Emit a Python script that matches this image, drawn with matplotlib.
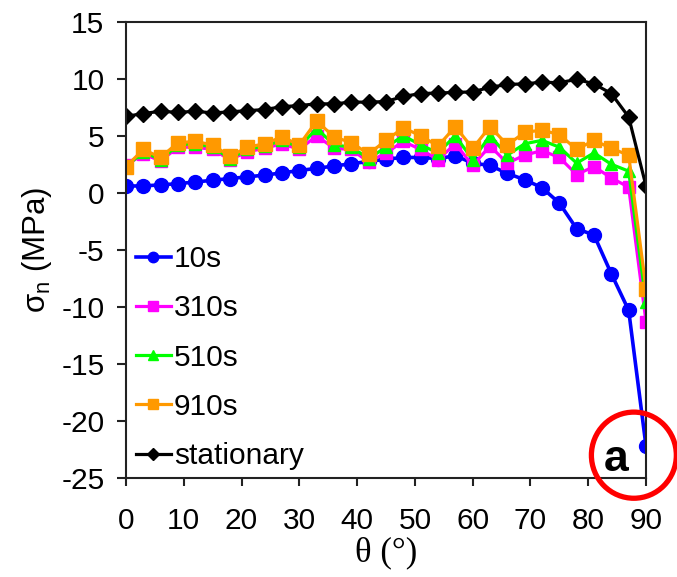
import matplotlib
matplotlib.use("Agg")
import matplotlib.pyplot as plt
from matplotlib.patches import Ellipse

plt.rcParams['font.family'] = ['Liberation Sans', 'DejaVu Sans']
plt.rcParams['mathtext.fontset'] = 'custom'
plt.rcParams['mathtext.rm'] = 'Liberation Sans'
plt.rcParams['mathtext.it'] = 'Liberation Sans:italic'
plt.rcParams['axes.unicode_minus'] = False

theta = list(range(0, 91, 3))

s10 = [0.6, 0.6, 0.7, 0.8, 0.95, 1.1, 1.25, 1.4, 1.55, 1.75, 1.95, 2.15, 2.35, 2.55,
       2.75, 2.95, 3.1, 3.1, 3.0, 3.25, 2.6, 2.4, 1.7, 1.15, 0.45, -0.9, -3.15, -3.7,
       -7.1, -10.3, -22.2]
s310 = [2.4, 3.4, 2.8, 4.0, 4.0, 3.8, 2.9, 3.6, 3.9, 4.3, 3.8, 5.0, 3.9, 3.8, 2.7,
        3.5, 4.5, 3.8, 2.9, 4.3, 2.4, 4.1, 2.6, 3.3, 3.7, 3.1, 1.6, 2.3, 1.3, 0.5, -11.3]
s510 = [2.3, 3.6, 2.9, 4.2, 4.3, 4.0, 3.0, 3.8, 4.1, 4.6, 4.0, 5.65, 4.2, 4.0, 3.0,
        4.0, 5.0, 4.2, 3.5, 5.0, 2.9, 5.0, 3.3, 4.3, 4.6, 4.0, 2.6, 3.5, 2.5, 1.9, -9.6]
s910 = [2.3, 3.8, 3.1, 4.4, 4.5, 4.2, 3.2, 4.0, 4.3, 4.9, 4.2, 6.3, 4.9, 4.4, 3.4,
        4.6, 5.7, 5.0, 4.1, 5.8, 3.9, 5.8, 4.2, 5.3, 5.5, 5.1, 3.8, 4.6, 3.9, 3.3, -8.4]
stationary = [6.7, 6.95, 7.15, 7.05, 7.15, 7.0, 7.1, 7.2, 7.3, 7.55, 7.65, 7.8, 7.8,
              7.95, 7.95, 8.0, 8.45, 8.7, 8.75, 8.8, 8.85, 9.25, 9.5, 9.55, 9.7, 9.65,
              9.95, 9.55, 8.7, 6.65, 0.6]

labels = ['10s', '310s', '510s', '910s', 'stationary']
xticks = list(range(0, 91, 10))
yticks = list(range(-25, 16, 5))

FS = 21.5

fig = plt.figure(figsize=(6.77, 5.77), dpi=100)
ax = fig.add_axes([126/677, 1-478/577, (646-126)/677, (478-21.7)/577])

ax.plot(theta, s10, '-o', color='#0000FF', lw=2.6, ms=10, label=labels[0])
ax.plot(theta, s310, '-s', color='#FF00FF', lw=2.3, ms=8.8, label=labels[1])
ax.plot(theta, s510, '-^', color='#00FF00', lw=2.3, ms=9, label=labels[2])
ax.plot(theta, s910, '-s', color='#FF9900', lw=2.3, ms=9.5, label=labels[3])
ax.plot(theta, stationary, '-D', color='black', lw=2.3, ms=8.5, label=labels[4])

ax.set_xlim(0, 90)
ax.set_ylim(-25, 15)
ax.set_xticks(xticks)
ax.set_yticks(yticks)
ax.tick_params(axis='both', labelsize=FS, direction='out', width=1.5, color='#222222')
ax.tick_params(axis='x', length=6, pad=15)
ax.tick_params(axis='y', length=6.5, pad=9)
for sp in ax.spines.values():
    sp.set_linewidth(1.5)
    sp.set_color('#222222')

ax.set_ylabel(r'σ$_\mathregular{n}$ (MPa)', fontsize=22.5, labelpad=5)
ax.set_xlabel('θ (°)', fontsize=25, family=['Liberation Serif', 'DejaVu Serif'], labelpad=1)

leg = ax.legend(loc='upper left', bbox_to_anchor=(0.019, 0.51), frameon=False,
                fontsize=FS, handlelength=1.18, handletextpad=0.1,
                labelspacing=0.71, markerscale=0.75, borderaxespad=0, borderpad=0)

ell = Ellipse((87.9, -23.0), 14.7, 7.55, fill=False, ec='#FF0000', lw=3.8,
              clip_on=False, zorder=10)
ax.add_patch(ell)
ax.text(84.8, -23.4, 'a', fontsize=32, fontweight='bold', ha='center', va='center',
        zorder=11)

fig.savefig('out.png', dpi=100)
